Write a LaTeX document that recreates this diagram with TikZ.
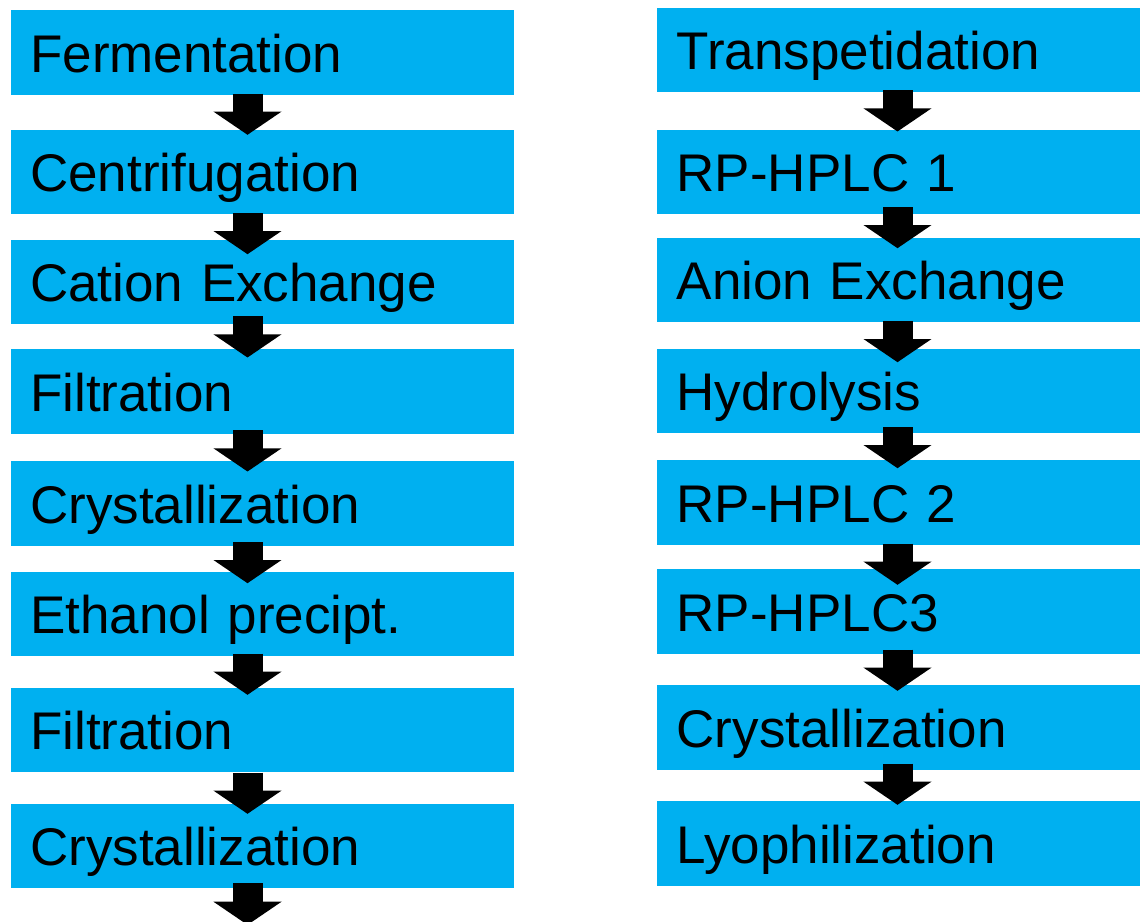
\documentclass[tikz,border=0pt]{standalone}
\usepackage{fontspec}
\setmainfont{Liberation Sans}
\usetikzlibrary{arrows.meta,calc}
\definecolor{stageblue}{RGB}{0,176,240}
\begin{document}
\begin{tikzpicture}[x=1pt,y=-1pt,
  stage/.style={fill=stageblue, draw=none, anchor=north west,
    minimum height=84.5pt, inner ysep=0pt, text height=39.5pt, text depth=0pt,
    align=left, font=\fontsize{53}{60}\selectfont},
  leftstage/.style={stage, minimum width=503pt, inner xsep=19pt, text width=465pt},
  rightstage/.style={stage, minimum width=483pt, inner xsep=19.5pt, text width=444pt},
  flow/.style={line width=30pt, -{Triangle[width=67pt,length=23.2pt]}}]
\useasboundingbox (0,0) rectangle (1140,921);

% left process chain
\node[leftstage] (l1) at (11,10)    {Fermentation};
\node[leftstage] (l2) at (11,129.3) {Centrifugation};
\node[leftstage] (l3) at (11,239.3) {Cation Exchange};
\node[leftstage] (l4) at (11,349)   {Filtration};
\node[leftstage] (l5) at (11,461)   {Crystallization};
\node[leftstage] (l6) at (11,571.7) {Ethanol precipt.};
\node[leftstage] (l7) at (11,687.3) {Filtration};
\node[leftstage] (l8) at (11,803.3) {Crystallization};
\coordinate (lout) at ($(l8.south west)+(236.5,36.7)$);

% right process chain
\node[rightstage] (r1) at (657,7.7)   {Transpetidation};
\node[rightstage] (r2) at (657,129.3) {RP-HPLC 1};
\node[rightstage] (r3) at (657,237.7) {Anion Exchange};
\node[rightstage] (r4) at (657,348.3) {Hydrolysis};
\node[rightstage] (r5) at (657,460)   {RP-HPLC 2};
\node[rightstage] (r6) at (657,569)   {RP-HPLC3};
\node[rightstage] (r7) at (657,685)   {Crystallization};
\node[rightstage] (r8) at (657,801)   {Lyophilization};

% block arrows, left chain
\draw[flow] ($(l1.south west)+(236.5,-1.2)$) -- ($(l2.north west)+(236.5,5.5)$);
\draw[flow] ($(l2.south west)+(236.5,-1.1)$) -- ($(l3.north west)+(236.5,14.9)$);
\draw[flow] ($(l3.south west)+(236.5,-7.8)$) -- ($(l4.north west)+(236.5,8.5)$);
\draw[flow] ($(l4.south west)+(236.5,-3.5)$) -- ($(l5.north west)+(236.5,10.5)$);
\draw[flow] ($(l5.south west)+(236.5,-3.8)$) -- ($(l6.north west)+(236.5,11.5)$);
\draw[flow] ($(l6.south west)+(236.5,-2.9)$) -- ($(l7.north west)+(236.5,7.5)$);
\draw[flow] ($(l7.south west)+(236.5,0.5)$)  -- ($(l8.north west)+(236.5,10.5)$);
\draw[flow] ($(l8.south west)+(236.5,-4.8)$) -- (lout);

% block arrows, right chain
\draw[flow] ($(r1.south west)+(240.5,-2.2)$) -- ($(r2.north west)+(240.5,2.2)$);
\draw[flow] ($(r2.south west)+(240.5,-7.1)$) -- ($(r3.north west)+(240.5,10.5)$);
\draw[flow] ($(r3.south west)+(240.5,-1.5)$) -- ($(r4.north west)+(240.5,13.9)$);
\draw[flow] ($(r4.south west)+(240.5,-6.1)$) -- ($(r5.north west)+(240.5,8.2)$);
\draw[flow] ($(r5.south west)+(240.5,-1.2)$) -- ($(r6.north west)+(240.5,15.8)$);
\draw[flow] ($(r6.south west)+(240.5,-4.2)$) -- ($(r7.north west)+(240.5,5.8)$);
\draw[flow] ($(r7.south west)+(240.5,-6.2)$) -- ($(r8.north west)+(240.5,3.8)$);
\end{tikzpicture}
\end{document}
